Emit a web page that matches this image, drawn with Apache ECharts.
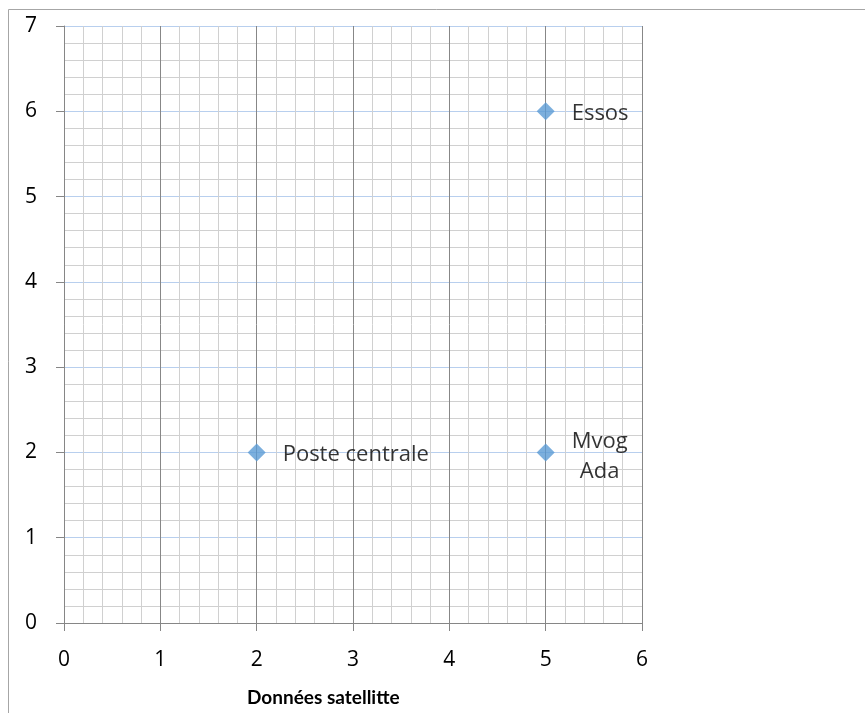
<!DOCTYPE html>
<html>
<head>
<meta charset="utf-8">
<script src="https://cdn.jsdelivr.net/npm/echarts@6/dist/echarts.min.js"></script>
<style>
  html, body { margin: 0; padding: 0; background: #fff; }
  #chart { width: 865px; height: 713px; }
</style>
</head>
<body>
<div id="chart"></div>
<script>
// Station names and their coordinates
const stationNames = ['Poste centrale', 'Mvog Ada', 'Essos'];
const xValues = [2, 5, 5];
const yValues = [2, 2, 6];
const pointLabels = ['Poste centrale', 'Mvog\nAda', 'Essos'];
const xAxisTitle = 'Données satellitte';

const FONT = '"Open Sans", "DejaVu Sans", sans-serif';

const points = stationNames.map((name, i) => {
  const item = { name: name, value: [xValues[i], yValues[i]] };
  if (pointLabels[i].indexOf('\n') >= 0) {
    item.label = { position: 'right', align: 'center', distance: 45, lineHeight: 30, offset: [0, 4] };
  } else {
    item.label = { position: 'right', distance: 17, offset: [0, 2] };
  }
  return item;
});

const chart = echarts.init(document.getElementById('chart'), null, { renderer: 'canvas' });

chart.setOption({
  animation: false,
  backgroundColor: '#ffffff',
  grid: { left: 64, right: 223, top: 26, bottom: 90, containLabel: false },
  xAxis: {
    type: 'value',
    min: 0, max: 6, interval: 1,
    axisLine: { show: true, lineStyle: { color: '#868686', width: 1 } },
    axisTick: { show: true, length: 8, lineStyle: { color: '#868686' } },
    axisLabel: { margin: 27, fontSize: 21, color: '#000', fontFamily: FONT },
    splitLine: { show: true, lineStyle: { color: '#878787', width: 1 } },
    minorTick: { show: false, splitNumber: 5 },
    minorSplitLine: { show: true, lineStyle: { color: '#d0d0d0', width: 1 } }
  },
  yAxis: {
    type: 'value',
    min: 0, max: 7, interval: 1,
    axisLine: { show: true, lineStyle: { color: '#868686', width: 1 } },
    axisTick: { show: true, length: 8, lineStyle: { color: '#868686' } },
    axisLabel: { margin: 27, fontSize: 21, color: '#000', fontFamily: FONT, padding: [4, 0, 0, 0] },
    splitLine: { show: true, lineStyle: { color: '#b8cfee', width: 1 } },
    minorTick: { show: false, splitNumber: 5 },
    minorSplitLine: { show: true, lineStyle: { color: '#d0d0d0', width: 1 } }
  },
  graphic: [
    { type: 'line', shape: { x1: 8.5, y1: 9.5, x2: 8.5, y2: 713 }, style: { stroke: '#a6a6a6', lineWidth: 1 } },
    { type: 'line', shape: { x1: 8.5, y1: 9.5, x2: 865, y2: 9.5 }, style: { stroke: '#a6a6a6', lineWidth: 1 } },
    {
      type: 'text', left: 247, top: 688,
      style: { text: xAxisTitle, fontSize: 19, fontWeight: 'bold', fontFamily: 'Lato, "Open Sans", sans-serif', fill: '#000' }
    }
  ],
  series: [{
    type: 'scatter',
    symbol: 'diamond',
    symbolSize: 18,
    itemStyle: { color: '#5b9bd5' },
    label: {
      show: true,
      formatter: (p) => pointLabels[p.dataIndex],
      fontSize: 22,
      color: '#000',
      fontFamily: FONT
    },
    data: points
  }]
});
</script>
</body>
</html>
